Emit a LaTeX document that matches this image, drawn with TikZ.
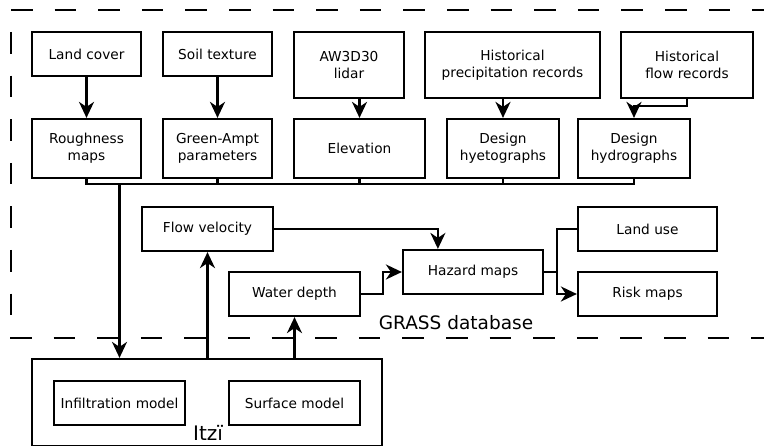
\documentclass[tikz,border=0pt]{standalone}
\usepackage{fontspec}
\setmainfont{DejaVu Sans}
\usetikzlibrary{arrows.meta,calc}
\begin{document}
\begin{tikzpicture}[x=1pt,y=-1pt,
  box/.style={draw,line width=2.2pt,align=center,inner sep=0pt,font=\fontsize{13.7}{17}\selectfont},
  conn/.style={line width=2.2pt},
  arr/.style={conn,-{Stealth[length=16pt,width=15pt,inset=5pt]}},
  region/.style={line width=2.2pt,dash pattern=on 21.6pt off 22pt},
  big/.style={font=\fontsize{18.5}{22}\selectfont}]
\useasboundingbox (0,0) rectangle (764,446);
\clip (0,0) rectangle (764,446);

% GRASS database region
\draw[region] (11,10) -- (790,10);
\draw[region] (10,338) -- (790,338);
\draw[region] (11,32) -- (11,338);
\node[big,anchor=base] (grass) at (456,330) {GRASS database};

% top row
\node[box,minimum width=109pt,minimum height=44pt] (lc) at (86.5,54) {Land cover};
\node[box,minimum width=109pt,minimum height=44pt] (st) at (217.5,54) {Soil texture};
\node[box,minimum width=110pt,minimum height=66pt] (aw) at (349,65) {AW3D30\\lidar};
\node[box,minimum width=175pt,minimum height=66pt] (hp) at (512.5,65) {Historical\\precipitation records};
\node[box,minimum width=132pt,minimum height=66pt] (hf) at (687,65) {Historical\\flow records};

% second row
\node[box,minimum width=109pt,minimum height=59pt] (rm) at (86.5,148.5) {Roughness\\maps};
\node[box,minimum width=109pt,minimum height=59pt] (ga) at (217.5,148.5) {Green-Ampt\\parameters};
\node[box,minimum width=131pt,minimum height=59pt] (el) at (359.5,148.5) {Elevation};
\node[box,minimum width=112pt,minimum height=59pt] (hy) at (503,148.5) {Design\\hyetographs};
\node[box,minimum width=112pt,minimum height=59pt] (hd) at (634,148.5) {Design\\hydrographs};

% results
\node[box,minimum width=131pt,minimum height=44pt] (fv) at (207.5,229) {Flow velocity};
\node[box,minimum width=131pt,minimum height=44pt] (wd) at (294.5,294) {Water depth};
\node[box,minimum width=140pt,minimum height=44pt] (hz) at (473,272) {Hazard maps};
\node[box,minimum width=139pt,minimum height=44pt] (lu) at (647.5,229) {Land use};
\node[box,minimum width=139pt,minimum height=44pt] (rk) at (647.5,294) {Risk maps};

% Itzi
\node[draw,line width=2.2pt,minimum width=350pt,minimum height=87pt,inner sep=0pt] (itzi) at (207,402.5) {};
\node[box,minimum width=131pt,minimum height=44pt] (inf) at (119.5,403) {Infiltration model};
\node[box,minimum width=131pt,minimum height=44pt] (sm) at (294.5,403) {Surface model};
\node[anchor=base,font=\fontsize{20}{24}\selectfont] (itzlabel) at (208,441) {Itzï};

% connectors top
\draw[arr] (lc) -- (rm);
\draw[arr] (st) -- (ga);
\draw[arr] (el.north |- aw.south) -- (el.north);
\draw[arr] (hy.north |- hp.south) -- (hy.north);
\draw[arr] (hf.south) |- ($(hd.north)+(0,-12)$) -- (hd.north);

% bus
\coordinate (bus) at (0,184);
\draw[conn] (rm.south) -- (rm.south |- bus) -- (hd.south |- bus) -- (hd.south);
\draw[conn] (ga.south) -- (ga.south |- bus);
\draw[conn] (el.south) -- (el.south |- bus);
\draw[conn] (hy.south) -- (hy.south |- bus);
\draw[arr] (inf.north |- bus) -- (inf.north |- itzi.north);

% outputs
\draw[arr] (itzi.north -| fv.south) -- (fv.south);
\draw[arr] (itzi.north -| wd.south) -- (wd.south);
\draw[arr] (fv.east) -| ($(hz.north west)+(36,0)$);
\draw[arr] (wd.east) -- ++(22,0) |- (hz.west);
\draw[arr] (hz.east) -- ++(13,0) coordinate (j) |- (rk.west);
\draw[conn] (lu.west) -| (j);
\end{tikzpicture}
\end{document}
